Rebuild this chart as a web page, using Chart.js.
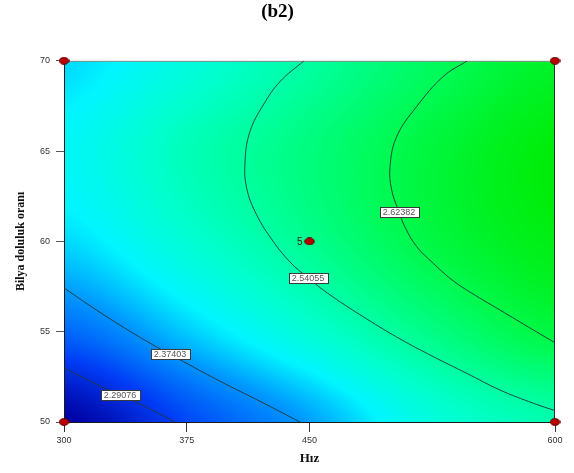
<!DOCTYPE html>
<html>
<head>
<meta charset="utf-8">
<script src="https://cdn.jsdelivr.net/npm/chart.js@4.4.1/dist/chart.umd.min.js"></script>
<style>
  html, body { margin: 0; background: #fff; }
</style>
</head>
<body>
<canvas id="chart" width="574" height="473"></canvas>
<script>
// axis ticks
const xTicks = [300, 375, 450, 600];
const yTicks = [50, 55, 60, 65, 70];

const gridX = [300, 375, 450, 525, 600];
const gridY = [50, 55, 60, 65, 70];
const gridZ = [
  [2.20, 2.30, 2.38, 2.48, 2.53],
  [2.33, 2.41, 2.49, 2.57, 2.635],
  [2.42, 2.49, 2.56, 2.632, 2.68],
  [2.45, 2.52, 2.577, 2.64, 2.69],
  [2.42, 2.48, 2.544, 2.606, 2.66]
];

// contour lines
const levels = ["2.29076", "2.37403", "2.54055", "2.62382"];
const c1 = [[300,52.99],[314.05,52.35],[322,51.99],[334.2,51.5],[347,50.97],[357.4,50.5],[367.8,50]];
const c2 = [[300,57.42],[322,56.07],[346.4,54.69],[364.8,53.75],[395.3,52.26],[419.7,51.15],[444.2,50]];
const c3 = [[446.6,70],[432,68.85],[421.8,67.56],[413.6,66.08],[410.6,64.42],[411.6,62.95],[417.7,61.47],
            [427.9,59.99],[438.1,58.86],[449.1,57.98],[462.5,57.04],[484.9,55.71],[505.3,54.6],
            [525.6,53.62],[546,52.7],[566.4,51.77],[586.7,51.04],[600,50.63]];
const c4 = [[546.4,70],[531.7,69.13],[515.5,67.47],[503.3,65.81],[499.2,64.14],[500.2,62.85],[504.7,61.63],
            [508.3,60.8],[515.5,59.71],[525.6,58.79],[535.8,57.96],[546,57.31],[566.4,56.2],[586.7,55.1],[600,54.39]];
const contours = [c1, c2, c3, c4];
const labelAt = [3, 3, 9, 6];

// design points
const designX = [300, 300, 600, 600, 450];
const designY = [50, 70, 50, 70, 60];
const centerRuns = "5";

// colour ramp (value -> rgb)
const ramp = [
  [2.20, 0, 0, 160],
  [2.29, 0, 60, 245],
  [2.374, 0, 150, 255],
  [2.44, 0, 245, 255],
  [2.50, 0, 255, 205],
  [2.54, 0, 255, 165],
  [2.62, 0, 250, 80],
  [2.70, 0, 235, 0]
];

function colorOf(v){
  if(v <= ramp[0][0]) return ramp[0].slice(1);
  for(let i=1;i<ramp.length;i++){
    if(v <= ramp[i][0]){
      let a = ramp[i-1], b = ramp[i], t = (v-a[0])/(b[0]-a[0]);
      return [a[1]+(b[1]-a[1])*t, a[2]+(b[2]-a[2])*t, a[3]+(b[3]-a[3])*t];
    }
  }
  return ramp[ramp.length-1].slice(1);
}

function cr(p0,p1,p2,p3,t){
  return 0.5*(2*p1 + (-p0+p2)*t + (2*p0-5*p1+4*p2-p3)*t*t + (-p0+3*p1-3*p2+p3)*t*t*t);
}

function zAt(x,y){
  let nx = gridX.length, ny = gridY.length;
  let fx = (x-gridX[0])/(gridX[1]-gridX[0]);
  let fy = (y-gridY[0])/(gridY[1]-gridY[0]);
  let i = Math.max(0, Math.min(nx-2, Math.floor(fx)));
  let j = Math.max(0, Math.min(ny-2, Math.floor(fy)));
  let tx = fx-i, ty = fy-j;
  const Z = (r,c) => gridZ[Math.max(0,Math.min(ny-1,r))][Math.max(0,Math.min(nx-1,c))];
  let col = [];
  for(let r=j-1;r<=j+2;r++) col.push(cr(Z(r,i-1),Z(r,i),Z(r,i+1),Z(r,i+2),tx));
  return cr(col[0],col[1],col[2],col[3],ty);
}

const fieldPlugin = {
  id: 'field',
  beforeDraw(chart){
    const {ctx, chartArea: a, scales: {x, y}} = chart;
    let w = Math.round(a.right-a.left), h = Math.round(a.bottom-a.top);
    let img = ctx.createImageData(w, h);
    for(let py=0; py<h; py++){
      let vy = y.getValueForPixel(a.top+py+0.5);
      for(let px=0; px<w; px++){
        let vx = x.getValueForPixel(a.left+px+0.5);
        let c = colorOf(zAt(vx, vy));
        let k = (py*w+px)*4;
        img.data[k] = c[0]; img.data[k+1] = c[1]; img.data[k+2] = c[2]; img.data[k+3] = 255;
      }
    }
    ctx.putImageData(img, Math.round(a.left), Math.round(a.top));
    ctx.save();
    ctx.lineWidth = 1;
    ctx.strokeStyle = '#8a8a8a';
    ctx.beginPath(); ctx.moveTo(a.left, a.top+0.5); ctx.lineTo(a.right, a.top+0.5); ctx.stroke();
    ctx.strokeStyle = '#2a2a2a';
    ctx.beginPath(); ctx.moveTo(a.right-0.5, a.top); ctx.lineTo(a.right-0.5, a.bottom); ctx.stroke();
    ctx.restore();
  },
  afterDatasetsDraw(chart){
    const {ctx, scales: {x, y}} = chart;
    ctx.save();
    ctx.font = '9px "Liberation Sans", Arial, sans-serif';
    ctx.textAlign = 'center';
    ctx.textBaseline = 'middle';
    contours.forEach((c, i) => {
      let p = c[labelAt[i]];
      let px = x.getPixelForValue(p[0]), py = y.getPixelForValue(p[1]);
      let tw = ctx.measureText(levels[i]).width + 6;
      ctx.fillStyle = '#fff';
      ctx.fillRect(Math.round(px-tw/2)+0.5, Math.round(py-5)+0.5, Math.round(tw), 10);
      ctx.strokeStyle = '#3a3a3a';
      ctx.lineWidth = 1;
      ctx.strokeRect(Math.round(px-tw/2)+0.5, Math.round(py-5)+0.5, Math.round(tw), 10);
      ctx.fillStyle = '#555';
      ctx.fillText(levels[i], px, py+0.5);
    });
    // run count beside the centre point
    let cx = x.getPixelForValue(designX[4]), cy = y.getPixelForValue(designY[4]);
    ctx.font = '10px "Liberation Sans", Arial, sans-serif';
    ctx.fillStyle = '#222';
    ctx.textAlign = 'right';
    ctx.fillText(centerRuns, cx-7, cy+0.5);
    ctx.restore();
  }
};

// elliptical red marker like the original
const dot = document.createElement('canvas');
dot.width = 11; dot.height = 8;
(function(){
  let g = dot.getContext('2d');
  g.beginPath();
  g.ellipse(5.5, 4, 4.8, 3.4, 0, 0, Math.PI*2);
  g.fillStyle = '#b80000';
  g.fill();
  g.strokeStyle = '#5c0000';
  g.lineWidth = 1;
  g.stroke();
})();

const datasets = [{
  type: 'scatter',
  data: designX.map((v,i) => ({x: v, y: designY[i]})),
  pointStyle: dot,
  pointRadius: 5,
  clip: false
}];
contours.forEach(c => {
  datasets.push({
    type: 'line',
    data: c.map(p => ({x: p[0], y: p[1]})),
    borderColor: 'rgba(35,55,55,0.9)',
    borderWidth: 1,
    pointRadius: 0,
    tension: 0.4,
    fill: false
  });
});

new Chart(document.getElementById('chart'), {
  type: 'scatter',
  data: { datasets },
  plugins: [fieldPlugin],
  options: {
    responsive: false,
    animation: false,
    events: [],
    layout: { padding: { left: 0, right: 19, top: 0, bottom: 0 } },
    plugins: {
      legend: { display: false },
      tooltip: { enabled: false },
      title: {
        display: true,
        text: '(b2)',
        color: '#000',
        font: { family: '"Liberation Serif", "Times New Roman", serif', size: 19, weight: 'bold' },
        padding: { top: 1, bottom: 37 }
      }
    },
    scales: {
      x: {
        type: 'linear',
        min: 300, max: 600,
        afterBuildTicks: s => { s.ticks = xTicks.map(v => ({value: v})); },
        afterFit: s => { s.height = 51; },
        ticks: { color: '#333', padding: 3, font: { family: '"Liberation Sans", Arial, sans-serif', size: 9 } },
        grid: { drawOnChartArea: false, color: '#333', tickLength: 10 },
        border: { color: '#1a1a1a', width: 1 },
        title: {
          display: true, text: 'Hız', color: '#111',
          font: { family: '"Liberation Serif", "Times New Roman", serif', size: 13, weight: 'bold' },
          padding: { top: 0, bottom: 7 }
        }
      },
      y: {
        type: 'linear',
        min: 50, max: 70,
        afterBuildTicks: s => { s.ticks = yTicks.map(v => ({value: v})); },
        afterFit: s => { s.width = 64; },
        ticks: { color: '#333', padding: 6, font: { family: '"Liberation Sans", Arial, sans-serif', size: 9 } },
        grid: { drawOnChartArea: false, color: '#555', tickLength: 8 },
        border: { color: '#1a1a1a', width: 1 },
        title: {
          display: true, text: 'Bilya doluluk oranı', color: '#111',
          font: { family: '"Liberation Serif", "Times New Roman", serif', size: 12, weight: 'bold' },
          padding: { top: 14, bottom: 0 }
        }
      }
    }
  }
});
</script>
</body>
</html>
